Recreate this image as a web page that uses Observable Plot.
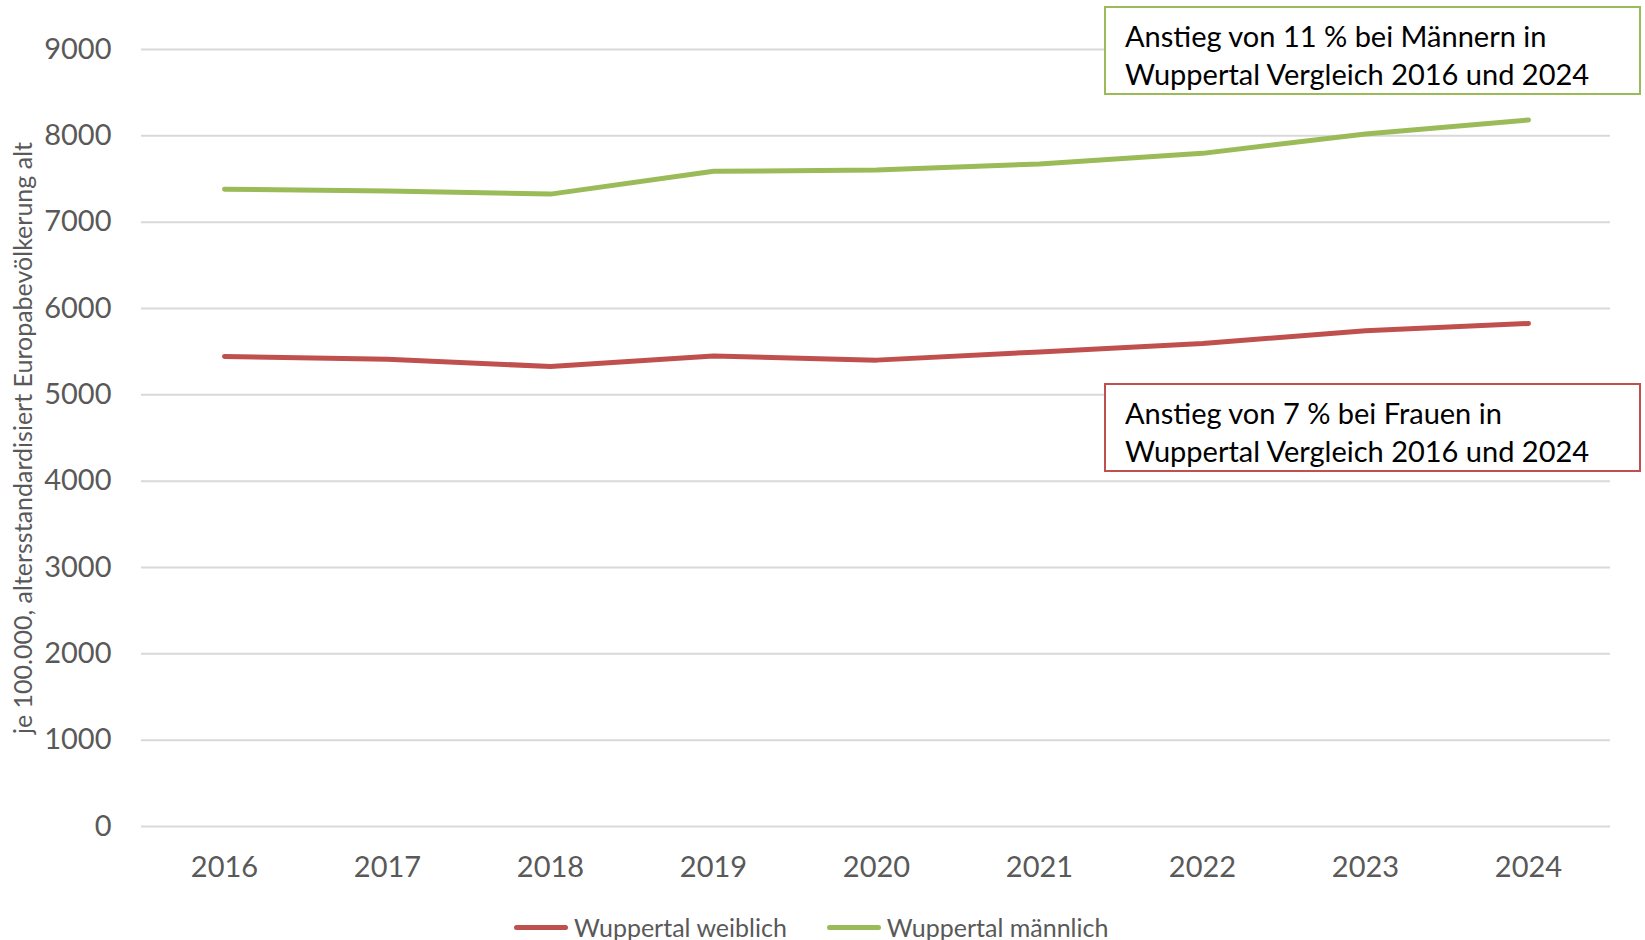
<!DOCTYPE html>
<html>
<head>
<meta charset="utf-8">
<script src="https://cdn.jsdelivr.net/npm/d3@7"></script>
<script src="https://cdn.jsdelivr.net/npm/@observablehq/plot@0.6"></script>
<style>
  html, body { margin: 0; padding: 0; background: #fff; }
  #wrap { position: relative; width: 1645px; height: 940px; font-family: Lato, "Open Sans", sans-serif; }
  .note { position: absolute; box-sizing: border-box; background: #fff; color: #000;
          font-size: 29px; line-height: 38px; padding: 9px 0 0 19px; white-space: nowrap; }
  #legend { position: absolute; left: 514px; top: 912px; display: flex; align-items: center;
            font-size: 25px; color: #595959; }
  .sw { display: inline-block; width: 54px; height: 5px; border-radius: 3px; margin-right: 6px; }
  .item { display: flex; align-items: center; margin-right: 40px; }
</style>
</head>
<body>
<div id="wrap"></div>
<script>
const years = [2016, 2017, 2018, 2019, 2020, 2021, 2022, 2023, 2024];
const weiblich = [5445, 5412, 5328, 5449, 5402, 5497, 5595, 5742, 5827];
const maennlich = [7382, 7361, 7325, 7590, 7603, 7675, 7797, 8022, 8184];
const seriesNames = ["Wuppertal weiblich", "Wuppertal männlich"];
const seriesColors = ["#c0504d", "#9bbb59"];
const yTicks = [0, 1000, 2000, 3000, 4000, 5000, 6000, 7000, 8000, 9000];
const yLabel = "je 100.000, altersstandardisiert Europabevölkerung alt";
const notes = [
  {lines: ["Anstieg von 11 % bei Männern in", "Wuppertal Vergleich 2016 und 2024"], color: "#9bbb59"},
  {lines: ["Anstieg von 7 % bei Frauen in", "Wuppertal Vergleich 2016 und 2024"], color: "#c0504d"}
];

const data = [];
years.forEach((y, i) => {
  data.push({year: y, value: weiblich[i], series: seriesNames[0]});
  data.push({year: y, value: maennlich[i], series: seriesNames[1]});
});

const H = 905;
const plot = Plot.plot({
  width: 1645,
  height: H,
  marginLeft: 141,
  marginRight: 35,
  marginTop: 49,
  marginBottom: H - 826,
  style: {fontFamily: "Lato, 'Open Sans', sans-serif", background: "#fff"},
  x: {type: "point", domain: years, padding: 0.5, label: null},
  y: {domain: [0, 9000], label: null},
  color: {domain: seriesNames, range: seriesColors},
  marks: [
    Plot.gridY(yTicks, {stroke: "#d9d9d9", strokeOpacity: 1, strokeWidth: 2}),
    Plot.axisY(yTicks, {tickSize: 0, tickPadding: 30, fontSize: 29, fill: "#595959", label: null, tickFormat: d => String(d)}),
    Plot.axisX(years, {tickSize: 0, tickPadding: 30, fontSize: 29, fill: "#595959", label: null, tickFormat: d => String(d)}),
    Plot.text([yLabel], {frameAnchor: "left", textAnchor: "middle", rotate: -90, dx: -118, fontSize: 25, fill: "#595959"}),
    Plot.line(data, {x: "year", y: "value", z: "series", stroke: "series", strokeWidth: 5, strokeLinecap: "round", strokeLinejoin: "round"})
  ]
});
const wrap = document.getElementById("wrap");
wrap.appendChild(plot);

const yScale = plot.scale("y");
const boxTops = [9495, 5135];
notes.forEach((n, i) => {
  const d = document.createElement("div");
  d.className = "note";
  d.style.left = "1104px";
  d.style.width = "537px";
  d.style.height = "89px";
  d.style.top = (yScale.apply(boxTops[i]) ) + "px";
  d.style.border = "2px solid " + n.color;
  d.innerHTML = n.lines.join("<br>");
  wrap.appendChild(d);
});

const legend = document.createElement("div");
legend.id = "legend";
seriesNames.forEach((s, i) => {
  const it = document.createElement("div");
  it.className = "item";
  it.innerHTML = `<span class="sw" style="background:${seriesColors[i]}"></span><span>${s}</span>`;
  legend.appendChild(it);
});
wrap.appendChild(legend);
</script>
</body>
</html>
